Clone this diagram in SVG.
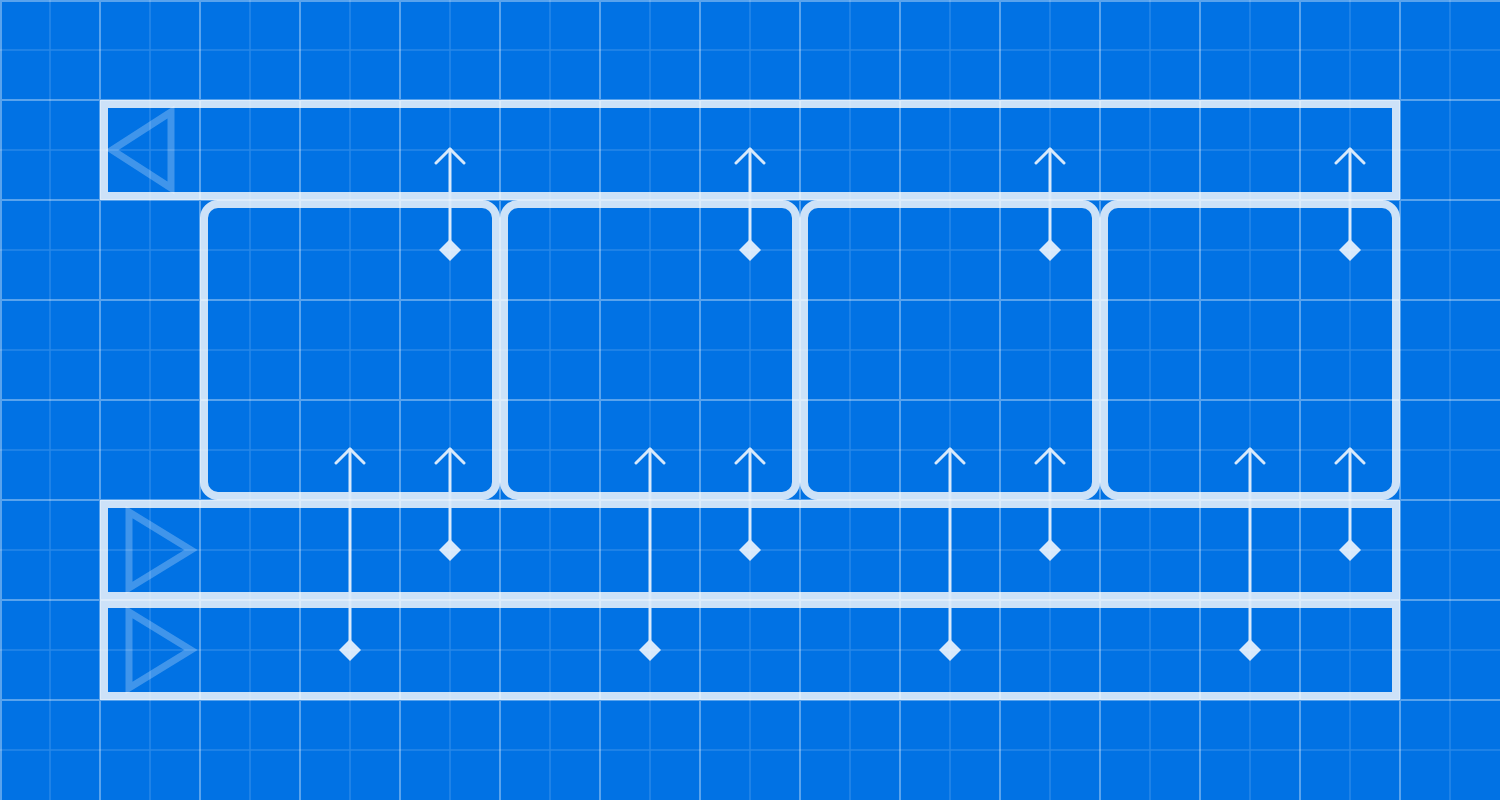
<svg xmlns="http://www.w3.org/2000/svg" width="1500" height="800" viewBox="0 0 1500 800">
  <defs>
    <style>
      .bar{fill:none;stroke:#cde2f8;stroke-width:8}
      .box{fill:none;stroke:#cde2f8;stroke-width:8}
      .tri{fill:none;stroke:#ffffff;stroke-opacity:0.25;stroke-width:7}
      .conn{fill:none;stroke:#d6e8fb;stroke-width:3;stroke-linecap:round}
      .major{stroke:#ffffff;stroke-opacity:0.35;stroke-width:2}
      .minor{stroke:#ffffff;stroke-opacity:0.16;stroke-width:1.5}
    </style>
    <marker id="arrow" viewBox="-16 -16 32 32" markerWidth="32" markerHeight="32" refX="0" refY="0" orient="auto" markerUnits="userSpaceOnUse">
      <path d="M-14,-14 L0,0 L-14,14" fill="none" stroke="#d6e8fb" stroke-width="3" stroke-linecap="round" stroke-linejoin="round"/>
    </marker>
    <marker id="diamond" viewBox="-12 -12 24 24" markerWidth="24" markerHeight="24" refX="0" refY="0" orient="auto" markerUnits="userSpaceOnUse">
      <path d="M-11,0 L0,-11 L11,0 L0,11 Z" fill="#d6e8fb"/>
    </marker>
  </defs>
  <rect x="0" y="0" width="1500" height="800" fill="#0172e4"/>

  <g id="bar-top">
    <rect class="bar" x="104" y="104" width="1292" height="92"/>
    <polygon class="tri" points="112,150 171,112 171,188"/>
  </g>
  <g id="bar-middle">
    <rect class="bar" x="104" y="504" width="1292" height="92"/>
    <polygon class="tri" points="129,512 191,550 129,588"/>
  </g>
  <g id="bar-bottom">
    <rect class="bar" x="104" y="604" width="1292" height="92"/>
    <polygon class="tri" points="129,612 191,650 129,688"/>
  </g>
  <g id="box-1"><rect class="box" x="204" y="204" width="292" height="292" rx="14"/></g>
  <g id="box-2"><rect class="box" x="504" y="204" width="292" height="292" rx="14"/></g>
  <g id="box-3"><rect class="box" x="804" y="204" width="292" height="292" rx="14"/></g>
  <g id="box-4"><rect class="box" x="1104" y="204" width="292" height="292" rx="14"/></g>

  <g id="connectors">
    <path class="conn" d="M450,250 L450,149" marker-start="url(#diamond)" marker-end="url(#arrow)"/>
    <path class="conn" d="M750,250 L750,149" marker-start="url(#diamond)" marker-end="url(#arrow)"/>
    <path class="conn" d="M1050,250 L1050,149" marker-start="url(#diamond)" marker-end="url(#arrow)"/>
    <path class="conn" d="M1350,250 L1350,149" marker-start="url(#diamond)" marker-end="url(#arrow)"/>
    <path class="conn" d="M450,550 L450,449" marker-start="url(#diamond)" marker-end="url(#arrow)"/>
    <path class="conn" d="M750,550 L750,449" marker-start="url(#diamond)" marker-end="url(#arrow)"/>
    <path class="conn" d="M1050,550 L1050,449" marker-start="url(#diamond)" marker-end="url(#arrow)"/>
    <path class="conn" d="M1350,550 L1350,449" marker-start="url(#diamond)" marker-end="url(#arrow)"/>
    <path class="conn" d="M350,650 L350,449" marker-start="url(#diamond)" marker-end="url(#arrow)"/>
    <path class="conn" d="M650,650 L650,449" marker-start="url(#diamond)" marker-end="url(#arrow)"/>
    <path class="conn" d="M950,650 L950,449" marker-start="url(#diamond)" marker-end="url(#arrow)"/>
    <path class="conn" d="M1250,650 L1250,449" marker-start="url(#diamond)" marker-end="url(#arrow)"/>
  </g>

  <g id="grid">
    <path class="minor" d="M50,0V800M150,0V800M250,0V800M350,0V800M450,0V800M550,0V800M650,0V800M750,0V800M850,0V800M950,0V800M1050,0V800M1150,0V800M1250,0V800M1350,0V800M1450,0V800M0,50H1500M0,150H1500M0,250H1500M0,350H1500M0,450H1500M0,550H1500M0,650H1500M0,750H1500"/>
    <path class="major" d="M1,0V800M100,0V800M200,0V800M300,0V800M400,0V800M500,0V800M600,0V800M700,0V800M800,0V800M900,0V800M1000,0V800M1100,0V800M1200,0V800M1300,0V800M1400,0V800M0,1H1500M0,100H1500M0,200H1500M0,300H1500M0,400H1500M0,500H1500M0,600H1500M0,700H1500"/>
  </g>
</svg>
